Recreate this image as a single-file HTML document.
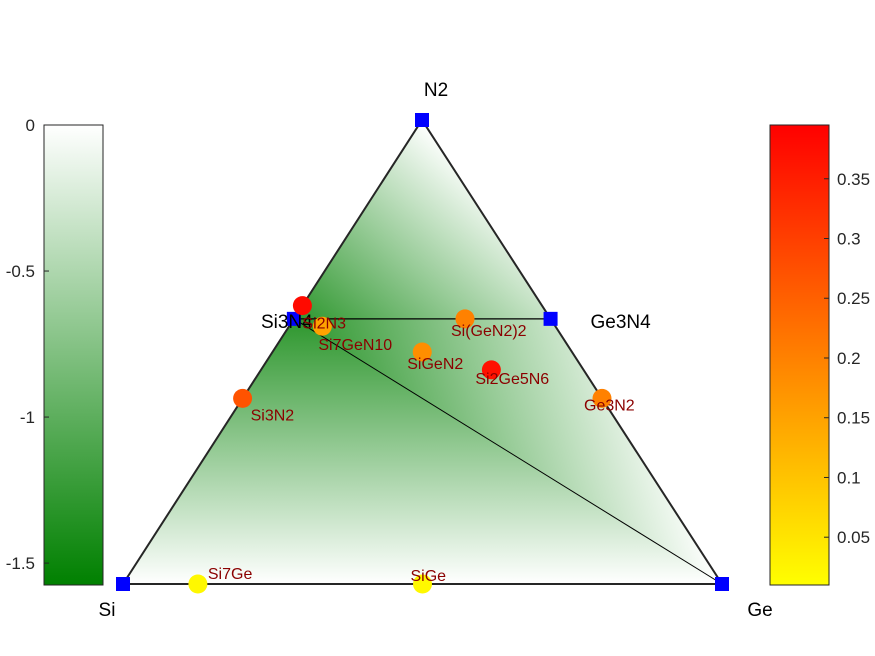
<!DOCTYPE html>
<html><head><meta charset="utf-8"><style>
html,body{margin:0;padding:0;background:#fff;}
svg{display:block;font-family:"Liberation Sans",Arial,sans-serif;}
</style></head><body>
<svg id="chart" width="875" height="656" viewBox="0 0 875 656">
<defs>
<linearGradient id="gleft" x1="0" y1="0" x2="0" y2="1">
<stop offset="0" stop-color="#ffffff"/>
<stop offset="1" stop-color="#008000"/>
</linearGradient>
<linearGradient id="gright" x1="0" y1="1" x2="0" y2="0">
<stop offset="0" stop-color="#ffff00"/>
<stop offset="1" stop-color="#ff0000"/>
</linearGradient>
</defs>
<g id="field"></g>
<g id="lines"></g>
<g id="points"></g>
<g id="bars"></g>
</svg>
<script>
const NS="http://www.w3.org/2000/svg";
const svg=document.getElementById('chart');
// data
const phaseNames=["Si2N3","Si7GeN10","Si(GeN2)2","SiGeN2","Si2Ge5N6","Si3N2","Ge3N2","Si7Ge","SiGe"];
const siCounts=[2,7,1,1,2,3,0,7,1];
const geCounts=[0,1,2,1,5,0,3,1,1];
const nCounts=[3,10,4,2,6,2,2,0,0];
const hullValues=[0.38,0.15,0.2,0.18,0.37,0.27,0.2,0.02,0.02];
const labelDx=[0,-4,-14,-15,-16,8,-18,10,-12];
const labelDy=[23,24,17,17,14,22,12,-5,-3];
const vertexNames=["Si","Ge","N2","Si3N4","Ge3N4"];
const vertexSi=[1,0,0,3,0];
const vertexGe=[0,1,0,0,3];
const vertexN=[0,0,1,4,4];
const formationEnergy=[0,0,0,-1.3,-0.35];
const hullTriangles=[[0,3,1],[3,4,1],[3,2,4]];
const leftTicks=[0,-0.5,-1,-1.5];
const rightTicks=[0.05,0.1,0.15,0.2,0.25,0.3,0.35];
const leftRange=[-1.575,0];
const rightRange=[0.01,0.395];

const P={si:[123,584],ge:[722,584],n:[422,120]};
function proj(s,g,n){const t=s+g+n;const a=s/t,b=g/t,c=n/t;
 return [a*P.si[0]+b*P.ge[0]+c*P.n[0], a*P.si[1]+b*P.ge[1]+c*P.n[1]];}
function el(tag,attrs,parent,name,inter){const e=document.createElementNS(NS,tag);for(const k in attrs)e.setAttribute(k,attrs[k]);(parent||svg).appendChild(e);
 
 
 return e;}
function txt(s,x,y,attrs,parent,name){const e=el('text',Object.assign({x:x,y:y},attrs),parent,name,false);e.textContent=s;return e;}
function heat(v){const t=Math.max(0,Math.min(1,(v-rightRange[0])/(rightRange[1]-rightRange[0])));return `rgb(255,${Math.round(255*(1-t))},0)`;}
function greenC(v){const t=Math.max(0,Math.min(1,v/leftRange[0]));return `rgb(${Math.round(255*(1-t))},${Math.round(255-127*t)},${Math.round(255*(1-t))})`;}

const vp=vertexNames.map((n,i)=>proj(vertexSi[i],vertexGe[i],vertexN[i]));
const field=document.getElementById('field');
const defs=svg.querySelector('defs');
hullTriangles.forEach((tr,k)=>{
 const [a,b,c]=tr.map(i=>vp[i]);const [va,vb,vc]=tr.map(i=>formationEnergy[i]);
 // gradient of linear function
 const x1=b[0]-a[0],y1=b[1]-a[1],x2=c[0]-a[0],y2=c[1]-a[1];
 const d1=vb-va,d2=vc-va;const det=x1*y2-x2*y1;
 const gx=(d1*y2-d2*y1)/det, gy=(x1*d2-x2*d1)/det;
 const g2=gx*gx+gy*gy||1e-9;
 const vals=[va,vb,vc];const vmin=Math.min(...vals),vmax=Math.max(...vals);
 const s=[a[0]+gx*(vmin-va)/g2, a[1]+gy*(vmin-va)/g2];
 const e=[a[0]+gx*(vmax-va)/g2, a[1]+gy*(vmax-va)/g2];
 const lg=document.createElementNS(NS,'linearGradient');
 lg.setAttribute('id','tg'+k);lg.setAttribute('gradientUnits','userSpaceOnUse');
 lg.setAttribute('x1',s[0]);lg.setAttribute('y1',s[1]);lg.setAttribute('x2',e[0]);lg.setAttribute('y2',e[1]);
 for(let j=0;j<=10;j++){const st=document.createElementNS(NS,'stop');st.setAttribute('offset',j/10);st.setAttribute('stop-color',greenC(vmin+(vmax-vmin)*j/10));lg.appendChild(st);}
 defs.appendChild(lg);
 el('polygon',{points:`${a[0]},${a[1]} ${b[0]},${b[1]} ${c[0]},${c[1]}`,fill:`url(#tg${k})`,stroke:`url(#tg${k})`,'stroke-width':0.5},field,'energy-field-facet',false);
});

const lines=document.getElementById('lines');
const tri=`${P.si[0]},${P.si[1]} ${P.ge[0]},${P.ge[1]} ${P.n[0]},${P.n[1]}`;
el('polygon',{points:tri,fill:'none',stroke:'#262626','stroke-width':2},lines,'triangle-outline',false);
el('line',{x1:vp[3][0],y1:vp[3][1],x2:vp[4][0],y2:vp[4][1],stroke:'#000','stroke-width':1.2},lines,'tie-line-si3n4-ge3n4',false);
el('line',{x1:vp[3][0],y1:vp[3][1],x2:vp[1][0],y2:vp[1][1],stroke:'#000','stroke-width':1},lines,'tie-line-si3n4-ge',false);

const pts=document.getElementById('points');
vp.forEach((p,i)=>{el('rect',{x:p[0]-7,y:p[1]-7,width:14,height:14,fill:'#0000ff'},pts,'vertex-'+vertexNames[i].toLowerCase(),true);});
const vOff=[[-16,32],[38,32],[14,-24],[-7,9],[70,9]];
vp.forEach((p,i)=>{txt(vertexNames[i],p[0]+vOff[i][0],p[1]+vOff[i][1],{'font-size':19,'text-anchor':'middle',fill:'#000'},pts,'vertex-label-'+vertexNames[i].toLowerCase());});
phaseNames.forEach((n,i)=>{const p=proj(siCounts[i],geCounts[i],nCounts[i]);
 el('circle',{cx:p[0],cy:p[1],r:9.5,fill:heat(hullValues[i])},pts,'phase-point-'+n.toLowerCase(),true);});
phaseNames.forEach((n,i)=>{const p=proj(siCounts[i],geCounts[i],nCounts[i]);
 txt(n,p[0]+labelDx[i],p[1]+labelDy[i],{'font-size':16,fill:'#8b0000'},pts,'phase-label-'+n.toLowerCase());});

const bars=document.getElementById('bars');
const cbTop=125,cbBot=585;
el('rect',{x:44,y:cbTop,width:59,height:cbBot-cbTop,fill:'url(#gleft)',stroke:'#262626','stroke-width':1},bars,'left-colorbar',false);
leftTicks.forEach(v=>{const y=cbBot-(v-leftRange[0])/(leftRange[1]-leftRange[0])*(cbBot-cbTop);
 el('line',{x1:44,y1:y,x2:49,y2:y,stroke:'#262626'},bars,'left-colorbar-tick',false);
 txt(String(v),35,y+6,{'font-size':17,'text-anchor':'end',fill:'#262626'},bars,'left-colorbar-tick-label');});
el('rect',{x:770,y:cbTop,width:59,height:cbBot-cbTop,fill:'url(#gright)',stroke:'#262626','stroke-width':1},bars,'right-colorbar',false);
rightTicks.forEach(v=>{const y=cbBot-(v-rightRange[0])/(rightRange[1]-rightRange[0])*(cbBot-cbTop);
 el('line',{x1:824,y1:y,x2:829,y2:y,stroke:'#262626'},bars,'right-colorbar-tick',false);
 txt(String(v),837,y+6,{'font-size':17,fill:'#262626'},bars,'right-colorbar-tick-label');});
</script>
</body></html>
